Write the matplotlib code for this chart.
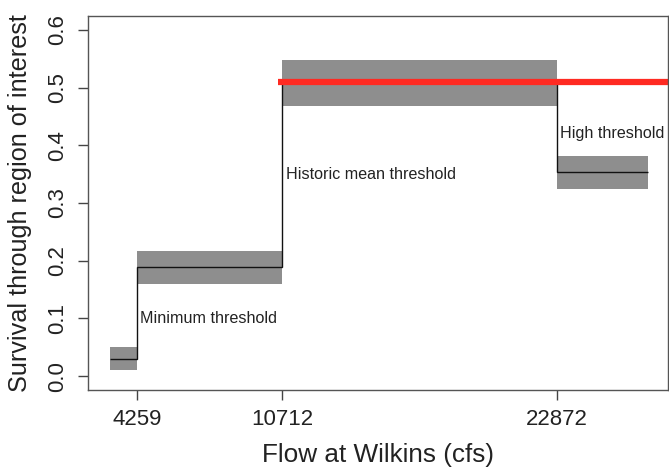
import matplotlib
matplotlib.use("Agg")
import matplotlib.pyplot as plt

plt.rcParams['font.family'] = ['Liberation Sans', 'DejaVu Sans']

# flow breakpoints (cfs) and survival estimates per flow band
edges = [3062, 4259, 10712, 22872, 26908]
survival = [0.029, 0.1885, 0.51, 0.353]
lower = [0.010, 0.159, 0.468, 0.324]
upper = [0.050, 0.217, 0.547, 0.382]
thresholds = [4259, 10712, 22872]
labels = ["Minimum threshold", "Historic mean threshold", "High threshold"]
label_y = [0.10, 0.35, 0.42]
target = 0.51
target_start = 10512

fig = plt.figure(figsize=(6.69, 4.69), dpi=100)
ax = fig.add_axes([0.1315, 0.1684, 0.867, 0.7975])

for i in range(len(survival)):
    ax.fill_between([edges[i], edges[i + 1]], lower[i], upper[i],
                    color='#8e8e8e', linewidth=0)

ax.stairs(survival, edges, baseline=None, color='#111111', linewidth=1.0)
ax.hlines(target, target_start, 30000, color='#ff2a22', linewidth=4.5)

for x, t, y in zip(thresholds, labels, label_y):
    ax.text(x + 150, y, t, fontsize=11.6, va='center', ha='left', color='#222222')

ax.set_xlim(2086, 27808)
ax.set_ylim(-0.024, 0.624)
ax.set_xticks(thresholds)
ax.set_xticklabels([str(t) for t in thresholds])
ax.set_yticks([0.0, 0.1, 0.2, 0.3, 0.4, 0.5, 0.6])
ax.set_yticklabels(['0.0', '0.1', '0.2', '0.3', '0.4', '0.5', '0.6'],
                   rotation=90, va='center')
ax.tick_params(direction='out', length=7, width=1, color='#444444',
               labelsize=16, labelcolor='#222222', pad=7)

for s in ax.spines.values():
    s.set_color('#555555')
    s.set_linewidth(1)

ax.set_xlabel("Flow at Wilkins (cfs)", fontsize=18.8, color='#222222', labelpad=9)
ax.set_ylabel("Survival through region of interest", fontsize=18.2,
              color='#222222', labelpad=11)

fig.savefig("out.png", dpi=100)
